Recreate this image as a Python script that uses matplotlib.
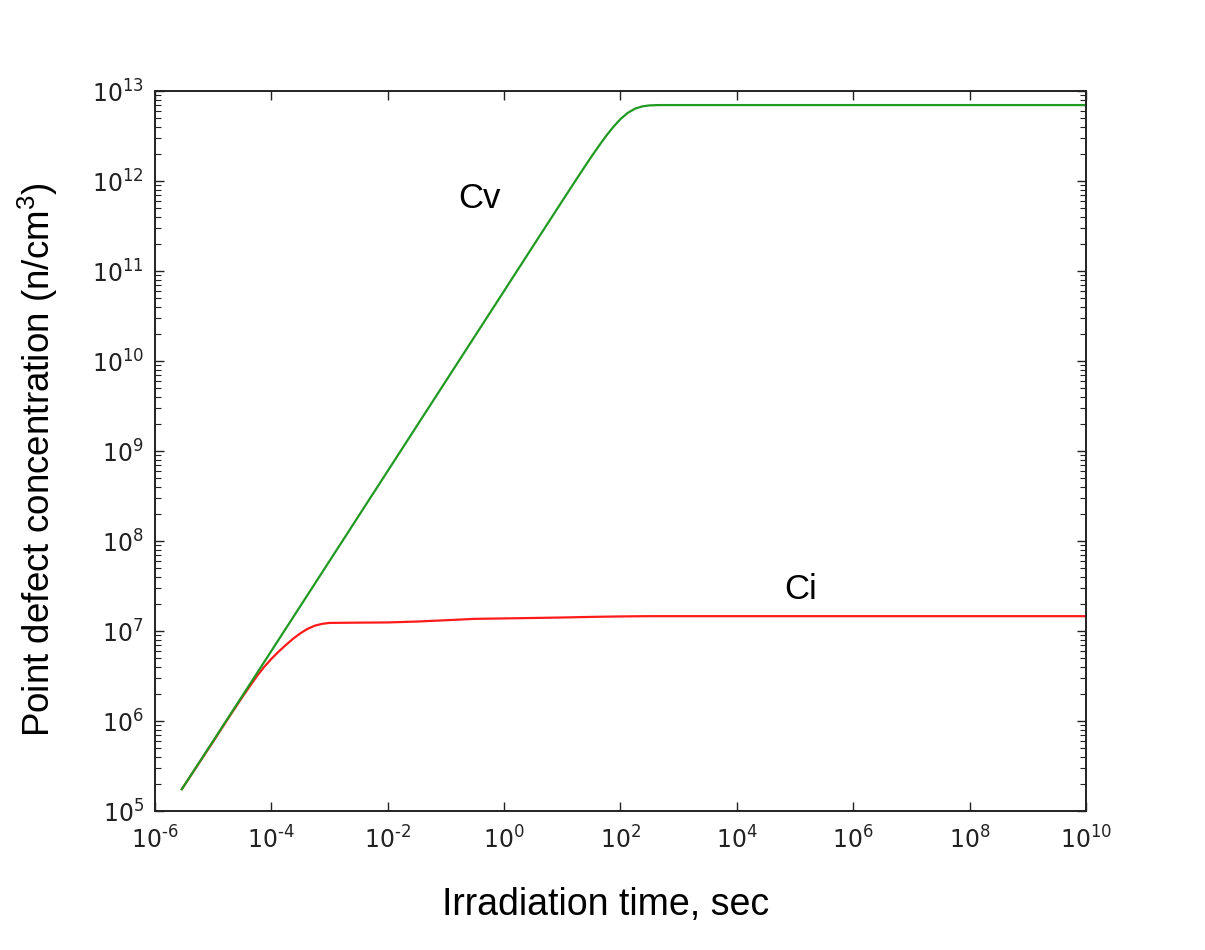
import math
import matplotlib
matplotlib.use("Agg")
import matplotlib.pyplot as plt
import matplotlib.ticker as ticker

# values (time in s, concentration in n/cm^3)
cv_time = [2.9e-6, 1e-5, 1e-4, 1e-3, 1e-2, 1e-1, 1.0, 3.16, 10.0, 17.8,
           23.7, 31.6, 42.2, 56.2, 75.0, 100.0, 133.0, 178.0, 237.0, 316.0,
           422.0, 562.0, 1e3, 1e10]
cv_conc = [1.75e5, 6.0e5, 6.0e6, 6.0e7, 6.0e8, 6.0e9, 6.0e10, 1.9e11, 6.0e11, 1.063e12,
           1.409e12, 1.859e12, 2.434e12, 3.145e12, 3.976e12, 4.87e12, 5.71e12, 6.361e12, 6.752e12, 6.921e12,
           6.97e12, 6.979e12, 6.98e12, 6.98e12]

ci_time = [2.9e-6, 1e-5, 1.78e-5, 3.16e-5, 5.62e-5, 7.5e-5, 1e-4, 1.33e-4, 1.78e-4, 2.37e-4,
           3.16e-4, 4.22e-4, 5.62e-4, 7.5e-4, 1e-3, 3.16e-3, 1e-2, 3.16e-2, 1e-1,
           3.16e-1, 1.0, 3.16, 10.0, 31.6, 100.0, 316.0, 1e10]
ci_conc = [1.75e5, 5.9e5, 1.05e6, 1.84e6, 3.14e6, 3.98e6, 4.90e6, 5.89e6, 7.0e6, 8.22e6,
           9.44e6, 1.059e7, 1.148e7, 1.202e7, 1.23e7, 1.239e7, 1.245e7, 1.274e7, 1.318e7,
           1.365e7, 1.38e7, 1.396e7, 1.413e7, 1.435e7, 1.452e7, 1.462e7, 1.462e7]

x_exps = [-6, -4, -2, 0, 2, 4, 6, 8, 10]
y_exps = [5, 6, 7, 8, 9, 10, 11, 12, 13]

label_font = "Liberation Sans"


def power_label(v, pos):
    # hyphen instead of the mathtext minus, like the reference
    e = int(round(math.log10(v)))
    s = str(e).replace("-", "\u2010")
    return r"$\mathregular{10^{%s}}$" % s


fig = plt.figure(figsize=(12.05, 9.5), dpi=100)
ax = fig.add_axes([0.1286, 0.1463, 0.7726, 0.7579])

# Ci first so the green Cv line sits on top where they overlap
ax.plot(ci_time, ci_conc, color="#ff1a1a", linewidth=1.6)
ax.plot(cv_time, cv_conc, color="#209a20", linewidth=1.6)

ax.set_xscale("log")
ax.set_yscale("log")
ax.set_xlim(1e-6, 1e10)
ax.set_ylim(1e5, 1e13)
ax.xaxis.set_major_locator(ticker.FixedLocator([10.0 ** e for e in x_exps]))
ax.xaxis.set_minor_locator(ticker.NullLocator())
ax.yaxis.set_major_locator(ticker.FixedLocator([10.0 ** e for e in y_exps]))
ax.yaxis.set_minor_locator(ticker.LogLocator(base=10, subs=range(2, 10), numticks=20))
ax.yaxis.set_minor_formatter(ticker.NullFormatter())
ax.xaxis.set_major_formatter(ticker.FuncFormatter(power_label))
ax.yaxis.set_major_formatter(ticker.FuncFormatter(power_label))

ax.tick_params(which="both", direction="in", top=True, right=True, colors="#222222")
ax.tick_params(which="major", length=6.5, width=1.0, labelsize=17)
ax.tick_params(axis="x", which="major", pad=11)
ax.tick_params(axis="y", which="major", pad=8)
ax.tick_params(which="minor", length=4, width=0.8)
for sp in ax.spines.values():
    sp.set_linewidth(1.4)
    sp.set_color("#222222")

ax.text(0.349, 0.851, "Cv", transform=ax.transAxes, fontsize=25,
        family=label_font, ha="center", va="center")
ax.text(0.693, 0.307, "Ci", transform=ax.transAxes, fontsize=25,
        family=label_font, ha="center", va="center")

fig.text(606 / 1205, 1 - 905 / 950, "Irradiation time, sec", fontsize=27,
         family=label_font, ha="center", va="center")
fig.text(38 / 1205, 1 - 460 / 950, r"Point defect concentration (n/cm$\mathregular{^3}$)",
         fontsize=26.5, family=label_font, ha="center", va="center", rotation=90)

fig.savefig("out.png", dpi=100)
